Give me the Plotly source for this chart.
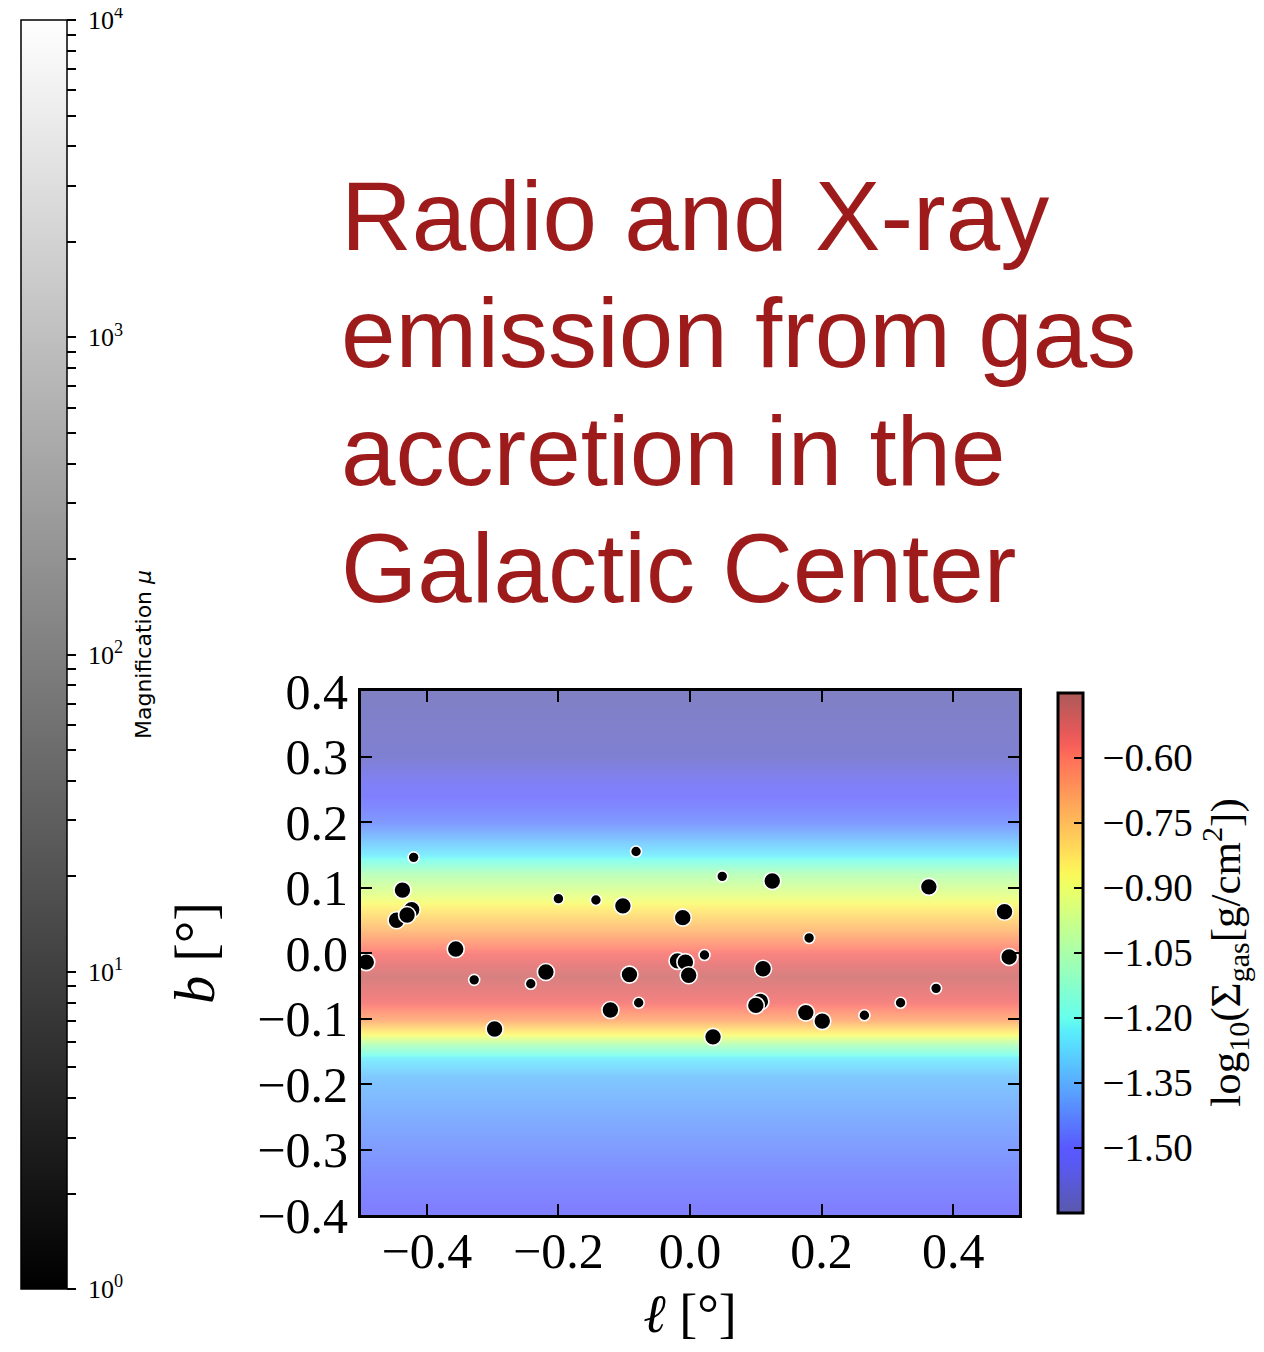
import numpy as np
import plotly.graph_objects as go

# The page body adds an 8 px margin, so the figure itself starts at (8, 8) of the screen.
OFF = 8
W, H = 1264 - 2 * OFF, 1352 - 2 * OFF
ML, MT = 361 - OFF, 691 - OFF
PW, PH = 658, 524
MR, MB = W - ML - PW, H - MT - PH

# ---------------- data ----------------
# source positions (galactic longitude / latitude, degrees)
l_deg = [-0.492, -0.420, -0.437, -0.446, -0.423, -0.430, -0.356, -0.328, -0.297, -0.242,
         -0.219, -0.200, -0.143, -0.102, -0.082, -0.092, -0.121, -0.078, -0.011, -0.019,
         -0.007, -0.002, 0.022, 0.035, 0.049, 0.107, 0.100, 0.111, 0.125, 0.181,
         0.176, 0.201, 0.265, 0.320, 0.363, 0.374, 0.478, 0.485]
b_deg = [-0.014, 0.146, 0.096, 0.050, 0.066, 0.058, 0.006, -0.041, -0.116, -0.047,
         -0.029, 0.083, 0.081, 0.072, 0.155, -0.033, -0.087, -0.076, 0.054, -0.012,
         -0.014, -0.034, -0.003, -0.128, 0.117, -0.074, -0.080, -0.024, 0.110, 0.023,
         -0.091, -0.104, -0.095, -0.076, 0.101, -0.054, 0.063, -0.006]
# marker class: 2 = large symbol, 1 = small symbol
src_class = [2, 1, 2, 2, 2, 2, 2, 1, 2, 1,
             2, 1, 1, 2, 1, 2, 2, 1, 2, 2,
             2, 2, 1, 2, 1, 2, 2, 2, 2, 1,
             2, 2, 1, 1, 2, 1, 2, 2]

# gas surface density profile vs latitude (log10 g/cm^2)
b_profile = [-0.40, -0.33, -0.26, -0.19, -0.16, -0.14, -0.125, -0.10, -0.075, -0.035,
             0.0, 0.035, 0.065, 0.09, 0.12, 0.15, 0.20, 0.25, 0.30, 0.40]
logsig_profile = [-1.51, -1.46, -1.40, -1.33, -1.24, -1.07, -0.88, -0.68, -0.56, -0.50,
                  -0.57, -0.72, -0.83, -0.93, -1.05, -1.24, -1.44, -1.52, -1.61, -1.64]
l_grid = [-0.5, 0.5]

sig_range = [-1.65, -0.45]
sig_ticks = [-0.60, -0.75, -0.90, -1.05, -1.20, -1.35, -1.50]

mu_range = [1, 10000]
mu_decades = [0, 1, 2, 3]

x_ticks = [-0.4, -0.2, 0.0, 0.2, 0.4]
y_ticks = [-0.4, -0.3, -0.2, -0.1, 0.0, 0.1, 0.2, 0.3, 0.4]

title_lines = ["Radio and X-ray", "emission from gas", "accretion in the", "Galactic Center"]

# ---------------- styling helpers ----------------
def jet_white(alpha, n=41):
    out = []
    for i in range(n):
        t = i / (n - 1)
        r = np.interp(t, [0, 0.35, 0.66, 0.89, 1], [0, 0, 1, 1, 0.5])
        g = np.interp(t, [0, 0.125, 0.375, 0.64, 0.91, 1], [0, 0, 1, 1, 0, 0])
        b = np.interp(t, [0, 0.11, 0.34, 0.65, 1], [0.5, 1, 1, 0, 0])
        c = [int(round(255 * (alpha * v + (1 - alpha)))) for v in (r, g, b)]
        out.append([t, f"rgb({c[0]},{c[1]},{c[2]})"])
    return out

def px_x(px):  # screen px -> paper
    return (px - OFF - ML) / PW

def px_y(py):
    return (MT + PH - (py - OFF)) / PH

SERIF = "Liberation Serif"
NBSP = "\u00a0"

fig = go.Figure()

# gas background
z = [[v for _ in l_grid] for v in logsig_profile]
fig.add_trace(go.Heatmap(
    x=l_grid, y=b_profile, z=z, zsmooth="best",
    colorscale=jet_white(0.5), zmin=sig_range[0], zmax=sig_range[1],
    hoverinfo="skip", showscale=False,
))

# sources
size_map = {2: 17, 1: 11}
fig.add_trace(go.Scatter(
    x=l_deg, y=b_deg, mode="markers",
    marker=dict(color="black", opacity=1, size=[size_map[c] for c in src_class],
                line=dict(color="white", width=1.6)),
    hoverinfo="skip", showlegend=False,
))

# gas colour bar
sig_ticktext = [NBSP + f"{v:.2f}".replace("-", "\u2212") for v in sig_ticks]
fig.add_trace(go.Scatter(
    x=[None, None], y=[None, None], mode="markers",
    marker=dict(color=sig_range, colorscale=jet_white(0.65),
                cmin=sig_range[0], cmax=sig_range[1], showscale=True,
                colorbar=dict(
                    x=px_x(1058), xanchor="left", y=px_y(952.5), yanchor="middle",
                    lenmode="pixels", len=520, thicknessmode="pixels", thickness=25,
                    xpad=0, ypad=0, outlinewidth=3, outlinecolor="black",
                    tickmode="array", tickvals=sig_ticks, ticktext=sig_ticktext,
                    ticks="inside", ticklen=10, tickwidth=1.5, tickcolor="black",
                    tickfont=dict(family=SERIF, size=39, color="black"),
                    title=dict(text="log<sub>10</sub>(Σ<sub>gas</sub>[g/cm<sup>2</sup>])",
                               side="right", font=dict(family=SERIF, size=43, color="black")),
                )),
    hoverinfo="skip", showlegend=False,
))

# magnification colour bar (log scale)
mu_tickvals, mu_ticktext = [], []
for d in mu_decades:
    for k in range(1, 10):
        mu_tickvals.append(np.log10(k * 10 ** d))
        mu_ticktext.append(f"{NBSP}10<sup>{d}</sup>" if k == 1 else "")
mu_tickvals.append(np.log10(mu_range[1]))
mu_ticktext.append(f"{NBSP}10<sup>4</sup>")

fig.add_trace(go.Scatter(
    x=[None, None], y=[None, None], mode="markers",
    marker=dict(color=[np.log10(mu_range[0]), np.log10(mu_range[1])],
                colorscale=[[0, "black"], [1, "white"]],
                cmin=np.log10(mu_range[0]), cmax=np.log10(mu_range[1]),
                showscale=True,
                colorbar=dict(
                    x=px_x(21), xanchor="left", y=px_y(654.6), yanchor="middle",
                    lenmode="pixels", len=1269, thicknessmode="pixels", thickness=46,
                    xpad=0, ypad=0, outlinewidth=1.5, outlinecolor="black",
                    tickmode="array", tickvals=mu_tickvals, ticktext=mu_ticktext,
                    ticks="outside", ticklen=9, tickwidth=1.5, tickcolor="black",
                    ticklabeloverflow="allow",
                    tickfont=dict(family=SERIF, size=26, color="black"),
                )),
    hoverinfo="skip", showlegend=False,
))

# magnification colour bar label
fig.add_annotation(
    text="Magnification <i>μ</i>", xref="paper", yref="paper",
    x=px_x(143), y=px_y(655), xanchor="center", yanchor="middle",
    textangle=-90, showarrow=False,
    font=dict(family="DejaVu Sans", size=22, color="black"),
)

axis_common = dict(
    showline=True, linewidth=3, linecolor="black", mirror="ticks",
    ticks="inside", ticklen=11, tickwidth=1.5, tickcolor="black",
    showgrid=False, zeroline=False, tickformat=".1f",
    tickfont=dict(family=SERIF, size=50, color="black"),
)

fig.update_xaxes(range=[-0.5, 0.5], tickmode="array", tickvals=x_ticks,
                 ticklabelstandoff=-10,
                 title=dict(text="<i>ℓ</i> [°]", standoff=24,
                            font=dict(family=SERIF, size=54, color="black")),
                 **axis_common)
fig.update_yaxes(range=[-0.4, 0.4], tickmode="array", tickvals=y_ticks,
                 title=dict(text="<i>b</i> [°]", standoff=25,
                            font=dict(family=SERIF, size=56, color="black")),
                 **axis_common)

baselines = [250, 367.5, 485, 602]
fs_title = 98
for line, base in zip(title_lines, baselines):
    fig.add_annotation(
        text=line, xref="paper", yref="paper",
        x=px_x(339), y=px_y(base - 0.35 * fs_title), xanchor="left", yanchor="middle",
        showarrow=False,
        font=dict(family="Liberation Sans", size=fs_title, color="#9e1b1b"),
    )

fig.update_layout(
    width=W, height=H, autosize=False,
    margin=dict(l=ML, r=MR, t=MT, b=MB, autoexpand=False),
    paper_bgcolor="white", plot_bgcolor="white",
    showlegend=False,
)

fig.write_html("out.html")
